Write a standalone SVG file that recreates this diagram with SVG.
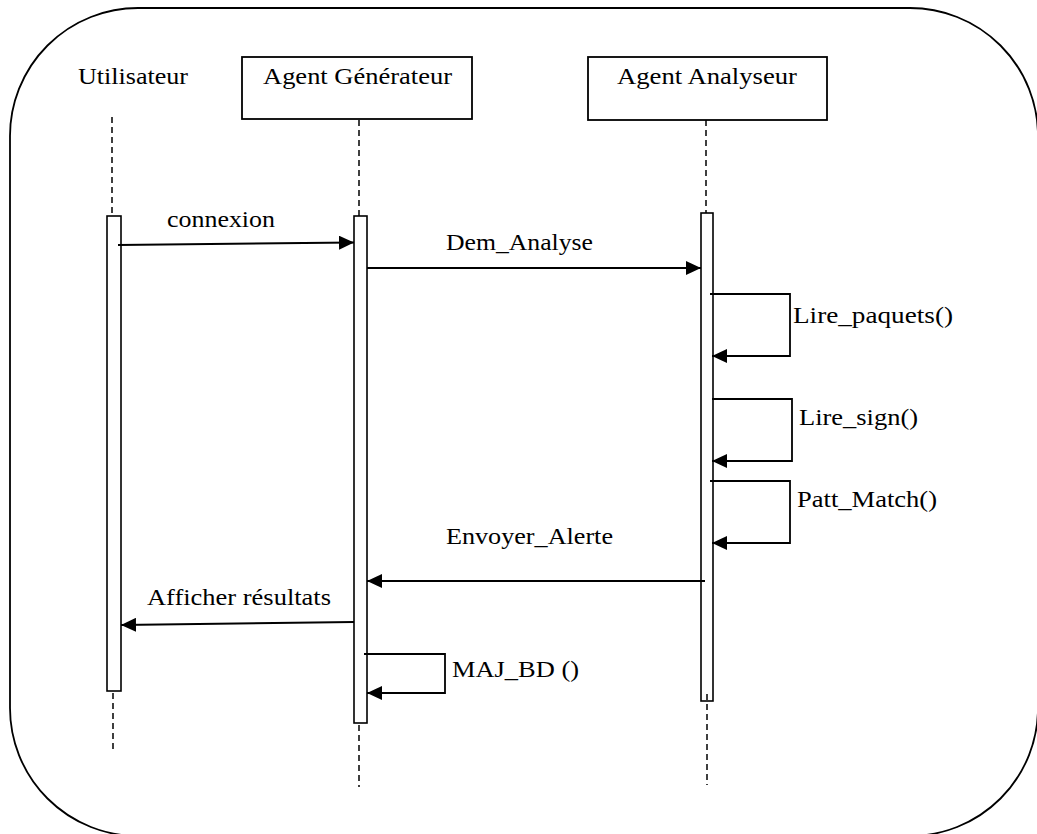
<svg xmlns="http://www.w3.org/2000/svg" width="1037" height="834" viewBox="0 0 1037 834">
  <style>
    .frame { fill: none; stroke: #000; stroke-width: 1.8; }
    .head { fill: #fff; stroke: #000; stroke-width: 1.8; }
    .act { fill: #fff; stroke: #000; stroke-width: 1.6; }
    .life { fill: none; stroke: #000; stroke-width: 1.5; stroke-dasharray: 6 4; }
    .msg { fill: none; stroke: #000; stroke-width: 2; marker-end: url(#arrow); }
    .loop { fill: none; stroke: #000; stroke-width: 1.8; marker-end: url(#arrow); }
    text { font-family: "Liberation Serif", "Times New Roman", serif; font-size: 24px; fill: #000; }
  </style>
  <defs>
    <marker id="arrow" markerUnits="userSpaceOnUse" markerWidth="15" markerHeight="14" refX="15" refY="7" orient="auto">
      <path d="M0,0 L15,7 L0,14 z" fill="#000"/>
    </marker>
  </defs>
  <rect width="1037" height="834" fill="#fff"/>

  <!-- system boundary -->
  <rect class="frame" x="10" y="8" width="1028" height="828" rx="128" ry="128"/>

  <!-- lifelines -->
  <g id="utilisateur">
    <text x="78" y="83.5" textLength="110" lengthAdjust="spacingAndGlyphs">Utilisateur</text>
    <line class="life" x1="112" y1="117" x2="112" y2="216"/>
    <line class="life" x1="113" y1="693" x2="113" y2="753"/>
    <rect class="act" x="107" y="216" width="14" height="475"/>
  </g>

  <g id="agent-generateur">
    <rect class="head" x="242" y="57" width="230" height="62"/>
    <text x="263" y="84" textLength="189" lengthAdjust="spacingAndGlyphs">Agent Générateur</text>
    <line class="life" x1="359" y1="120" x2="359" y2="216"/>
    <line class="life" x1="359" y1="725" x2="359" y2="787"/>
    <rect class="act" x="354" y="216" width="13" height="507"/>
  </g>

  <g id="agent-analyseur">
    <rect class="head" x="588" y="57" width="239" height="63"/>
    <text x="617" y="84" textLength="180" lengthAdjust="spacingAndGlyphs">Agent Analyseur</text>
    <line class="life" x1="706" y1="120" x2="706" y2="213"/>
    <rect class="act" x="701" y="213" width="12" height="488"/>
    <line class="life" x1="707" y1="694" x2="707" y2="785"/>
  </g>

  <!-- messages -->
  <g id="messages">
    <path class="msg" d="M118,245 L354,242.5"/>
    <text x="167" y="227" textLength="108" lengthAdjust="spacingAndGlyphs">connexion</text>

    <path class="msg" d="M367,268 L701,268"/>
    <text x="446" y="250" textLength="147" lengthAdjust="spacingAndGlyphs">Dem_Analyse</text>

    <path class="loop" d="M710,294 H790 V356 H712"/>
    <text x="793" y="323" textLength="160" lengthAdjust="spacingAndGlyphs">Lire_paquets()</text>

    <path class="loop" d="M712,399 H792 V461 H712"/>
    <text x="799" y="425" textLength="119" lengthAdjust="spacingAndGlyphs">Lire_sign()</text>

    <path class="loop" d="M710,481 H790 V543 H712"/>
    <text x="797" y="507" textLength="140" lengthAdjust="spacingAndGlyphs">Patt_Match()</text>

    <path class="msg" d="M705,581 H367"/>
    <text x="446" y="544" textLength="167" lengthAdjust="spacingAndGlyphs">Envoyer_Alerte</text>

    <path class="msg" d="M354,622 L121,625"/>
    <text x="147" y="605" textLength="184" lengthAdjust="spacingAndGlyphs">Afficher résultats</text>

    <path class="loop" d="M364,654 H445 V693 H367"/>
    <text x="452" y="677" textLength="127" lengthAdjust="spacingAndGlyphs">MAJ_BD ()</text>
  </g>
</svg>
